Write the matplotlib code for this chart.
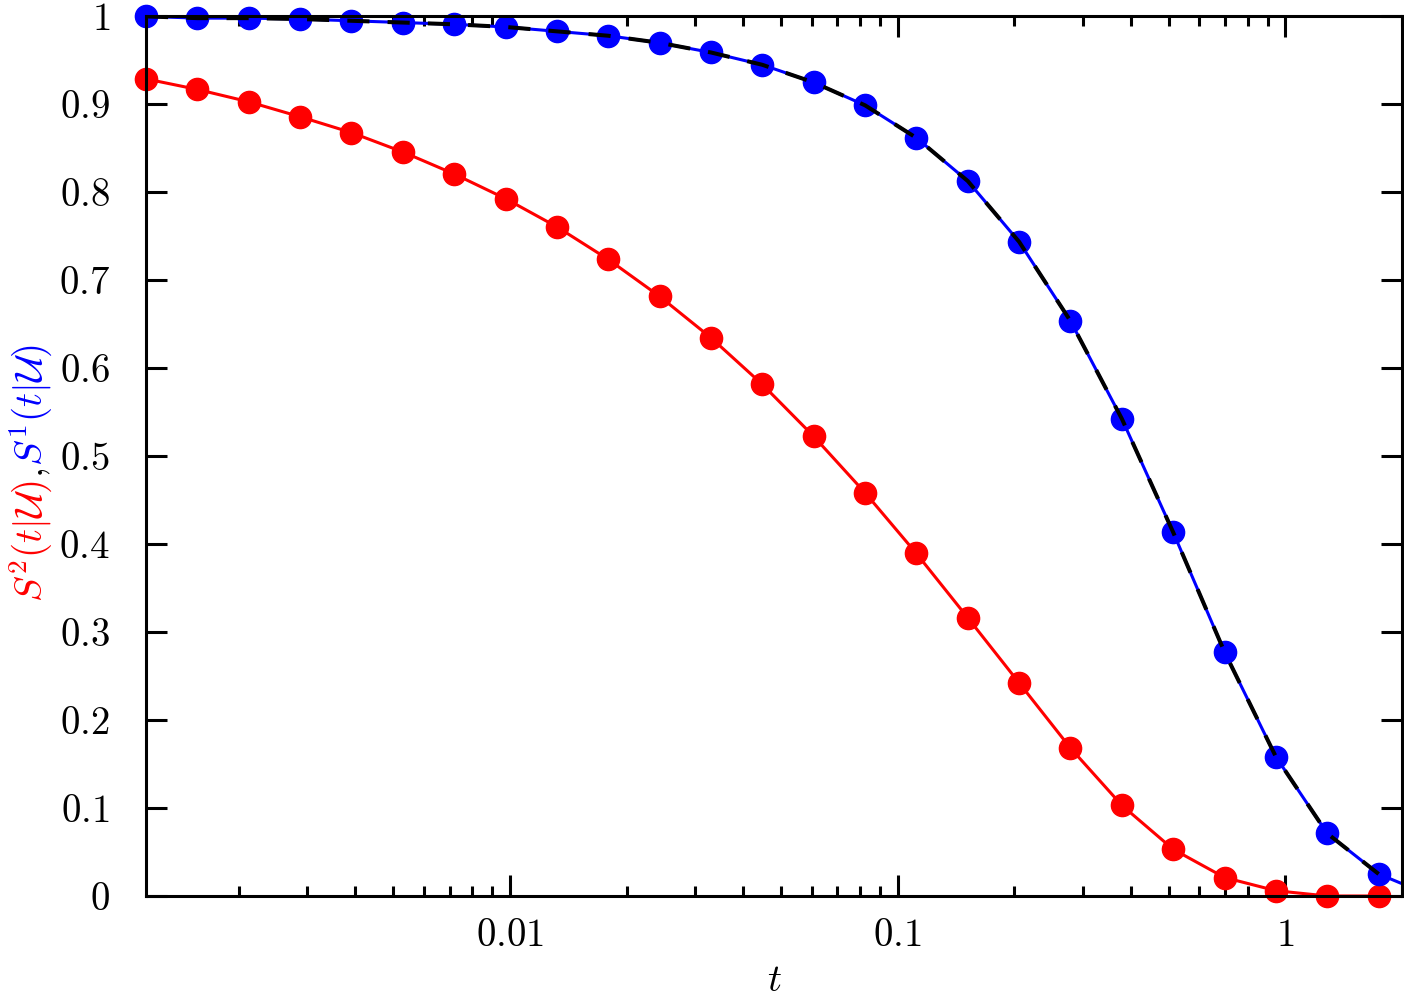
import matplotlib
matplotlib.use('Agg')
import matplotlib.pyplot as plt
from matplotlib.ticker import NullFormatter

plt.rcParams['mathtext.fontset'] = 'cm'
plt.rcParams['font.family'] = ['DejaVu Serif']

# time points
t = [0.001153, 0.001565, 0.002122, 0.002879, 0.003906, 0.005300, 0.007190,
     0.009752, 0.013229, 0.017947, 0.024348, 0.033030, 0.044810, 0.060786,
     0.082462, 0.11187, 0.15176, 0.20588, 0.27930, 0.37890, 0.51404,
     0.69734, 0.94603, 1.2834, 1.7411]

# S^2(t|U), red
s2 = [0.928, 0.916, 0.902, 0.885, 0.867, 0.845, 0.820, 0.792, 0.760, 0.723,
      0.681, 0.634, 0.581, 0.522, 0.458, 0.389, 0.316, 0.242, 0.168, 0.103,
      0.053, 0.021, 0.006, 0.0, 0.0]

# S^1(t|U), blue
s1 = [0.999, 0.997, 0.997, 0.996, 0.994, 0.992, 0.990, 0.987, 0.982, 0.977,
      0.969, 0.958, 0.944, 0.924, 0.898, 0.861, 0.812, 0.743, 0.653, 0.542,
      0.413, 0.277, 0.158, 0.071, 0.025]

# blue curve continues to the right border
t_edge = 2.0
s1_edge = 0.014

xlim = (0.001153, 2.0)
xticks = [0.01, 0.1, 1]
xticklabels = ['$0.01$', '$0.1$', '$1$']
yticks = [0, 0.1, 0.2, 0.3, 0.4, 0.5, 0.6, 0.7, 0.8, 0.9, 1]
yticklabels = ['$0$', '$0.1$', '$0.2$', '$0.3$', '$0.4$', '$0.5$',
               '$0.6$', '$0.7$', '$0.8$', '$0.9$', '$1$']
ylabel_parts = [(r'$S^2(t|\mathcal{U})$', 'red'),
                (r'$,$', 'black'),
                (r'$S^1(t|\mathcal{U})$', 'blue')]

fs = 28
fig = plt.figure(figsize=(14.04, 10), dpi=100)
ax = fig.add_axes([146 / 1404, 104 / 1000, 1256 / 1404, 880.5 / 1000])

ax.plot(t, s2, color='red', lw=2.2, marker='o', ms=16, clip_on=False, zorder=2)
ax.plot(t + [t_edge], s1 + [s1_edge], color='blue', lw=2.2, zorder=2)
ax.plot(t, s1, color='blue', lw=0, marker='o', ms=16, clip_on=False, zorder=2)
ax.plot(t, s1, color='black', lw=2.9, ls=(0, (5.5, 4.5)), zorder=2.1)

ax.set_xscale('log')
ax.set_xlim(*xlim)
ax.set_ylim(0, 1)
ax.set_xticks(xticks, xticklabels)
ax.set_yticks(yticks, yticklabels)
ax.xaxis.set_minor_formatter(NullFormatter())

for sp in ax.spines.values():
    sp.set_linewidth(2.2)
ax.tick_params(which='both', direction='in', top=True, right=True, width=2.2,
               labelsize=fs)
ax.tick_params(which='major', length=15)
ax.tick_params(which='minor', length=7.5)
ax.tick_params(axis='y', pad=26)
ax.tick_params(axis='x', pad=15)

ax.set_xlabel('$t$', fontsize=fs, labelpad=6)

# multi-coloured y label, stacked bottom to top
fig.canvas.draw()
renderer = fig.canvas.get_renderer()
y = 398.0
for txt, col in ylabel_parts:
    tt = fig.text(43 / 1404, y / 1000, txt, color=col, fontsize=fs, rotation=90,
                  rotation_mode='anchor', ha='left', va='baseline')
    bb = tt.get_window_extent(renderer)
    y += bb.height + 2

fig.savefig('out.png', dpi=100)
